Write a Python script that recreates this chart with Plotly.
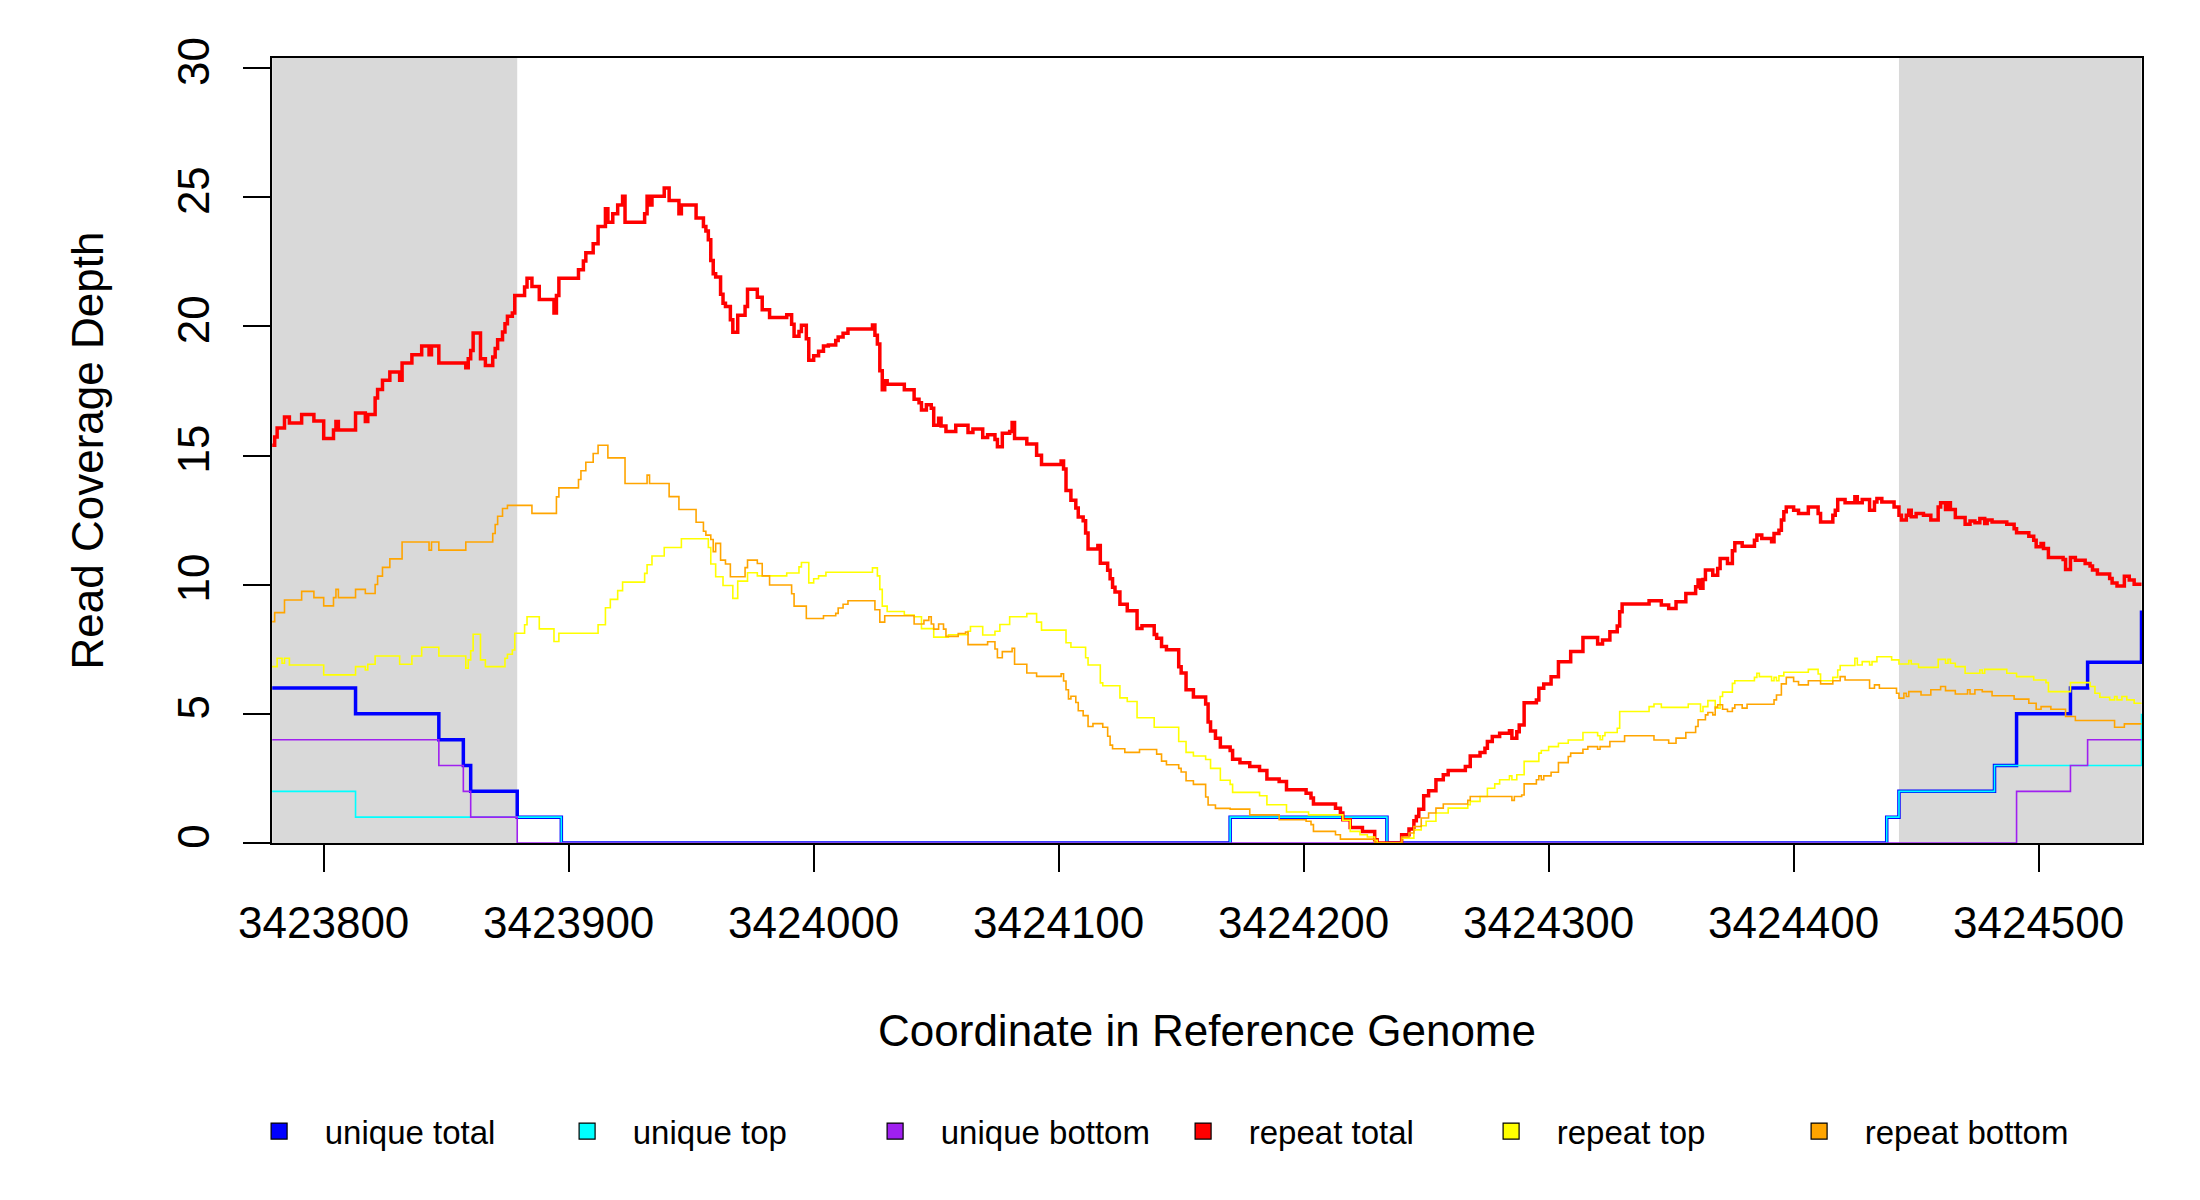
import plotly.graph_objects as go

# read coverage along the reference, stored as steps:
# (genome position, depth) -> depth holds until the next position
end_pos = 3424542

unique_total = [
    (3423779, 6), (3423813, 5), (3423847, 4), (3423857, 3), (3423860, 2),
    (3423879, 1), (3423897, 0), (3424170, 1), (3424234, 0), (3424438, 1),
    (3424443, 2), (3424482, 3), (3424491, 5), (3424513, 6), (3424520, 7),
    (3424542, 9),
]

unique_top = [
    (3423779, 2), (3423813, 1), (3423897, 0), (3424170, 1), (3424234, 0),
    (3424438, 1), (3424443, 2), (3424482, 3), (3424542, 5),
]

unique_bottom = [
    (3423779, 4), (3423847, 3), (3423857, 2), (3423860, 1), (3423879, 0),
    (3424491, 2), (3424513, 3), (3424520, 4),
]

repeat_total = [
    (3423779, 15.40), (3423780, 15.72), (3423781, 16.07), (3423784, 16.49),
    (3423786, 16.26), (3423791, 16.59), (3423796, 16.34), (3423800, 15.66),
    (3423804, 15.99), (3423805, 16.32), (3423806, 15.99), (3423813, 16.65),
    (3423817, 16.32), (3423818, 16.59), (3423821, 17.23), (3423822, 17.56),
    (3423824, 17.91), (3423827, 18.23), (3423831, 17.91), (3423832, 18.58),
    (3423836, 18.90), (3423840, 19.24), (3423843, 18.90), (3423844, 19.24),
    (3423847, 18.58), (3423858, 18.40), (3423859, 18.75), (3423860, 19.07),
    (3423861, 19.74), (3423864, 18.75), (3423866, 18.49), (3423869, 18.81),
    (3423870, 19.14), (3423871, 19.48), (3423873, 19.78), (3423874, 20.10),
    (3423875, 20.39), (3423877, 20.52), (3423878, 21.20), (3423882, 21.52),
    (3423883, 21.86), (3423885, 21.54), (3423888, 21.04), (3423894, 20.52),
    (3423895, 21.20), (3423896, 21.86), (3423904, 22.19), (3423906, 22.53),
    (3423907, 22.85), (3423910, 23.20), (3423912, 23.87), (3423915, 24.55),
    (3423916, 24.03), (3423918, 24.36), (3423920, 24.70), (3423922, 25.04),
    (3423923, 24.03), (3423931, 24.36), (3423932, 25.04), (3423933, 24.70),
    (3423934, 25.04), (3423939, 25.36), (3423941, 24.87), (3423945, 24.36),
    (3423946, 24.70), (3423952, 24.20), (3423955, 23.87), (3423956, 23.69),
    (3423957, 23.35), (3423958, 22.55), (3423959, 22.04), (3423960, 21.91),
    (3423962, 21.24), (3423963, 20.90), (3423964, 20.77), (3423966, 20.26),
    (3423967, 19.77), (3423969, 20.43), (3423972, 20.77), (3423973, 21.44),
    (3423977, 21.13), (3423979, 20.64), (3423982, 20.34), (3423989, 20.45),
    (3423991, 20.08), (3423992, 19.62), (3423994, 19.80), (3423995, 20.04),
    (3423997, 19.52), (3423998, 18.69), (3424000, 18.86), (3424002, 19.04),
    (3424004, 19.24), (3424006, 19.28), (3424009, 19.45), (3424010, 19.59),
    (3424012, 19.73), (3424014, 19.90), (3424024, 20.05), (3424025, 19.66),
    (3424026, 19.32), (3424027, 18.28), (3424028, 17.55), (3424029, 17.90),
    (3424030, 17.76), (3424037, 17.55), (3424041, 17.18), (3424043, 17.04),
    (3424044, 16.76), (3424046, 16.97), (3424048, 16.83), (3424049, 16.17),
    (3424051, 16.44), (3424052, 16.14), (3424054, 15.93), (3424058, 16.17),
    (3424063, 15.89), (3424065, 16.03), (3424069, 15.70), (3424071, 15.80),
    (3424074, 15.62), (3424075, 15.34), (3424077, 15.86), (3424080, 15.93),
    (3424081, 16.28), (3424082, 15.66), (3424087, 15.45), (3424091, 15.01),
    (3424093, 14.65), (3424101, 14.79), (3424102, 14.48), (3424103, 13.65),
    (3424105, 13.27), (3424107, 12.97), (3424108, 12.62), (3424110, 12.48),
    (3424111, 12.00), (3424112, 11.38), (3424116, 11.52), (3424117, 10.83),
    (3424120, 10.56), (3424121, 10.23), (3424122, 9.90), (3424123, 9.72),
    (3424125, 9.24), (3424128, 8.99), (3424132, 8.30), (3424134, 8.41),
    (3424139, 8.07), (3424140, 7.93), (3424142, 7.61), (3424144, 7.48),
    (3424149, 6.82), (3424150, 6.58), (3424152, 5.93), (3424155, 5.65),
    (3424160, 5.38), (3424161, 4.68), (3424162, 4.34), (3424164, 4.06),
    (3424166, 3.72), (3424170, 3.58), (3424171, 3.24), (3424174, 3.11),
    (3424178, 2.96), (3424182, 2.81), (3424185, 2.48), (3424190, 2.38),
    (3424193, 2.06), (3424201, 1.93), (3424203, 1.74), (3424204, 1.51),
    (3424213, 1.35), (3424215, 1.16), (3424216, 0.90), (3424219, 0.60),
    (3424224, 0.45), (3424229, 0.13), (3424230, 0.00), (3424240, 0.32),
    (3424243, 0.54), (3424245, 0.86), (3424246, 1.03), (3424247, 1.31),
    (3424249, 1.83), (3424251, 2.02), (3424254, 2.45), (3424257, 2.64),
    (3424259, 2.81), (3424266, 2.96), (3424268, 3.37), (3424272, 3.50),
    (3424274, 3.67), (3424275, 3.93), (3424277, 4.12), (3424280, 4.25),
    (3424284, 4.35), (3424285, 4.06), (3424287, 4.31), (3424288, 4.57),
    (3424290, 5.43), (3424295, 5.54), (3424296, 5.99), (3424298, 6.16),
    (3424301, 6.44), (3424304, 7.02), (3424309, 7.41), (3424314, 7.96),
    (3424320, 7.70), (3424322, 7.86), (3424325, 8.18), (3424328, 8.40),
    (3424329, 8.95), (3424330, 9.25), (3424341, 9.38), (3424346, 9.21),
    (3424349, 9.08), (3424352, 9.34), (3424356, 9.66), (3424360, 9.92),
    (3424361, 10.18), (3424362, 9.86), (3424363, 10.20), (3424364, 10.57),
    (3424367, 10.37), (3424369, 10.63), (3424370, 11.01), (3424373, 10.82),
    (3424375, 11.31), (3424376, 11.62), (3424379, 11.49), (3424384, 11.72),
    (3424385, 11.92), (3424387, 11.79), (3424391, 11.66), (3424392, 11.98),
    (3424394, 12.11), (3424395, 12.50), (3424396, 12.82), (3424397, 13.01),
    (3424400, 12.88), (3424402, 12.76), (3424406, 13.01), (3424410, 12.76),
    (3424411, 12.43), (3424416, 12.69), (3424417, 12.88), (3424418, 13.30),
    (3424421, 13.17), (3424425, 13.40), (3424426, 13.17), (3424428, 13.30),
    (3424431, 12.88), (3424433, 13.20), (3424434, 13.34), (3424436, 13.20),
    (3424441, 13.01), (3424443, 12.69), (3424444, 12.50), (3424446, 12.69),
    (3424447, 12.88), (3424448, 12.63), (3424450, 12.76), (3424453, 12.69),
    (3424456, 12.50), (3424459, 13.01), (3424460, 13.17), (3424462, 12.91),
    (3424463, 13.17), (3424464, 12.91), (3424466, 12.60), (3424470, 12.34),
    (3424472, 12.47), (3424474, 12.40), (3424476, 12.56), (3424478, 12.37),
    (3424479, 12.50), (3424481, 12.43), (3424487, 12.34), (3424490, 12.17),
    (3424491, 12.01), (3424496, 11.88), (3424498, 11.72), (3424499, 11.47),
    (3424501, 11.59), (3424502, 11.40), (3424504, 11.05), (3424510, 10.98),
    (3424511, 10.59), (3424513, 11.05), (3424515, 10.95), (3424519, 10.82),
    (3424521, 10.72), (3424522, 10.57), (3424524, 10.41), (3424529, 10.24),
    (3424530, 10.07), (3424532, 9.95), (3424535, 10.33), (3424537, 10.18),
    (3424539, 10.02),
]

repeat_top = [
    (3423779, 6.83), (3423781, 7.15), (3423783, 6.96), (3423784, 7.15),
    (3423786, 6.89), (3423800, 6.51), (3423813, 6.83), (3423817, 6.70),
    (3423818, 6.92), (3423821, 7.24), (3423831, 6.92), (3423836, 7.24),
    (3423840, 7.58), (3423847, 7.24), (3423858, 6.77), (3423859, 7.09),
    (3423860, 7.44), (3423861, 8.08), (3423864, 7.09), (3423866, 6.83),
    (3423874, 7.15), (3423875, 7.31), (3423877, 7.47), (3423878, 8.12),
    (3423882, 8.45), (3423883, 8.76), (3423888, 8.29), (3423894, 7.80),
    (3423896, 8.12), (3423912, 8.45), (3423915, 9.11), (3423917, 9.43),
    (3423920, 9.77), (3423922, 10.10), (3423931, 10.44), (3423932, 10.77),
    (3423934, 11.11), (3423939, 11.44), (3423946, 11.78), (3423957, 11.44),
    (3423958, 10.80), (3423960, 10.31), (3423963, 9.97), (3423967, 9.47),
    (3423969, 10.14), (3423973, 10.46), (3423977, 10.34), (3423989, 10.45),
    (3423994, 10.69), (3423995, 10.86), (3423998, 10.07), (3424000, 10.23),
    (3424002, 10.34), (3424005, 10.48), (3424024, 10.65), (3424026, 10.34),
    (3424027, 9.82), (3424028, 9.17), (3424030, 8.96), (3424037, 8.82),
    (3424041, 8.76), (3424044, 8.30), (3424049, 7.97), (3424055, 8.06),
    (3424063, 8.20), (3424064, 8.38), (3424069, 8.05), (3424074, 8.20),
    (3424076, 8.46), (3424080, 8.76), (3424087, 8.88), (3424091, 8.55),
    (3424093, 8.24), (3424103, 7.75), (3424105, 7.58), (3424111, 7.17),
    (3424112, 6.89), (3424117, 6.20), (3424118, 6.09), (3424125, 5.62),
    (3424128, 5.48), (3424132, 4.85), (3424139, 4.48), (3424149, 3.93),
    (3424152, 3.51), (3424155, 3.37), (3424160, 3.23), (3424162, 2.89),
    (3424166, 2.43), (3424170, 2.27), (3424171, 1.96), (3424182, 1.83),
    (3424185, 1.48), (3424193, 1.20), (3424202, 1.09), (3424216, 0.88),
    (3424219, 0.45), (3424223, 0.32), (3424226, 0.23), (3424229, 0.10),
    (3424230, 0.00), (3424240, 0.19), (3424245, 0.51), (3424248, 0.67),
    (3424250, 0.84), (3424254, 1.16), (3424259, 1.35), (3424267, 1.48),
    (3424268, 1.61), (3424272, 1.80), (3424275, 2.12), (3424278, 2.29),
    (3424280, 2.45), (3424284, 2.60), (3424285, 2.45), (3424287, 2.64),
    (3424290, 3.16), (3424296, 3.48), (3424297, 3.58), (3424300, 3.73),
    (3424304, 3.86), (3424308, 3.99), (3424314, 4.28), (3424320, 4.15),
    (3424321, 4.00), (3424322, 4.15), (3424323, 4.28), (3424328, 4.44),
    (3424329, 5.09), (3424341, 5.28), (3424343, 5.38), (3424346, 5.25),
    (3424357, 5.38), (3424362, 5.09), (3424363, 5.28), (3424365, 5.51),
    (3424368, 5.22), (3424370, 5.67), (3424371, 5.84), (3424375, 6.18),
    (3424376, 6.28), (3424384, 6.41), (3424385, 6.57), (3424386, 6.44),
    (3424391, 6.28), (3424392, 6.41), (3424393, 6.28), (3424394, 6.47),
    (3424396, 6.61), (3424406, 6.72), (3424410, 6.54), (3424411, 6.28),
    (3424416, 6.41), (3424418, 6.70), (3424419, 6.87), (3424425, 7.15),
    (3424426, 6.89), (3424428, 7.02), (3424431, 6.89), (3424432, 7.02),
    (3424434, 7.21), (3424440, 7.09), (3424443, 6.93), (3424447, 7.06),
    (3424448, 6.93), (3424451, 6.80), (3424459, 7.11), (3424462, 6.96),
    (3424463, 7.11), (3424464, 6.96), (3424466, 6.83), (3424470, 6.57),
    (3424476, 6.70), (3424477, 6.57), (3424478, 6.72), (3424487, 6.57),
    (3424491, 6.44), (3424498, 6.31), (3424503, 6.21), (3424504, 5.86),
    (3424513, 6.21), (3424521, 6.06), (3424523, 5.80), (3424525, 5.64),
    (3424529, 5.54), (3424531, 5.67), (3424532, 5.54), (3424534, 5.67),
    (3424536, 5.54), (3424539, 5.41),
]

repeat_bottom = [
    (3423779, 8.57), (3423780, 8.92), (3423784, 9.41), (3423791, 9.74),
    (3423796, 9.50), (3423800, 9.18), (3423804, 9.50), (3423805, 9.82),
    (3423806, 9.50), (3423813, 9.82), (3423817, 9.66), (3423821, 10.01),
    (3423822, 10.33), (3423824, 10.67), (3423827, 11.00), (3423832, 11.65),
    (3423843, 11.34), (3423844, 11.65), (3423847, 11.34), (3423858, 11.65),
    (3423869, 11.98), (3423870, 12.33), (3423871, 12.65), (3423873, 12.95),
    (3423875, 13.07), (3423885, 12.76), (3423895, 13.40), (3423896, 13.75),
    (3423904, 14.07), (3423905, 14.41), (3423907, 14.74), (3423910, 15.08),
    (3423912, 15.40), (3423916, 14.91), (3423923, 13.92), (3423932, 14.24),
    (3423933, 13.92), (3423941, 13.41), (3423945, 12.91), (3423952, 12.42),
    (3423955, 12.07), (3423956, 11.92), (3423958, 11.75), (3423959, 11.28),
    (3423960, 11.60), (3423962, 10.95), (3423964, 10.80), (3423966, 10.31),
    (3423972, 10.66), (3423973, 10.95), (3423977, 10.82), (3423979, 10.34),
    (3423982, 9.99), (3423991, 9.65), (3423992, 9.17), (3423997, 8.69),
    (3424004, 8.80), (3424009, 8.89), (3424010, 9.10), (3424012, 9.24),
    (3424014, 9.38), (3424025, 9.03), (3424027, 8.55), (3424029, 8.80),
    (3424041, 8.48), (3424045, 8.62), (3424047, 8.76), (3424048, 8.48),
    (3424049, 8.28), (3424051, 8.48), (3424053, 8.28), (3424054, 8.00),
    (3424059, 8.11), (3424062, 8.17), (3424063, 7.68), (3424071, 7.79),
    (3424074, 7.51), (3424075, 7.17), (3424077, 7.41), (3424081, 7.54),
    (3424082, 6.92), (3424087, 6.58), (3424091, 6.45), (3424101, 6.55),
    (3424102, 6.27), (3424103, 5.93), (3424104, 5.58), (3424105, 5.68),
    (3424107, 5.44), (3424108, 5.12), (3424110, 4.93), (3424112, 4.51),
    (3424114, 4.62), (3424118, 4.48), (3424120, 4.13), (3424121, 3.79),
    (3424122, 3.65), (3424127, 3.51), (3424133, 3.62), (3424140, 3.44),
    (3424142, 3.17), (3424144, 3.03), (3424149, 2.89), (3424150, 2.75),
    (3424152, 2.41), (3424155, 2.27), (3424160, 1.78), (3424161, 1.47),
    (3424164, 1.34), (3424170, 1.31), (3424178, 1.09), (3424190, 0.90),
    (3424201, 0.84), (3424203, 0.71), (3424204, 0.45), (3424213, 0.32),
    (3424215, 0.15), (3424229, 0.00), (3424240, 0.23), (3424243, 0.39),
    (3424245, 0.64), (3424248, 0.97), (3424251, 1.16), (3424254, 1.35),
    (3424257, 1.51), (3424267, 1.65), (3424268, 1.80), (3424285, 1.65),
    (3424286, 1.80), (3424289, 1.86), (3424290, 2.29), (3424295, 2.45),
    (3424296, 2.60), (3424297, 2.45), (3424298, 2.60), (3424301, 2.74),
    (3424304, 3.11), (3424308, 3.35), (3424309, 3.48), (3424314, 3.63),
    (3424316, 3.73), (3424320, 3.63), (3424321, 3.73), (3424325, 3.93),
    (3424331, 4.15), (3424343, 3.99), (3424349, 3.86), (3424352, 4.06),
    (3424356, 4.28), (3424360, 4.51), (3424361, 4.77), (3424364, 4.96),
    (3424365, 5.05), (3424367, 4.96), (3424368, 5.26), (3424369, 5.35),
    (3424371, 5.18), (3424373, 5.09), (3424375, 5.22), (3424376, 5.35),
    (3424379, 5.22), (3424381, 5.37), (3424392, 5.54), (3424393, 5.73),
    (3424395, 6.16), (3424397, 6.41), (3424400, 6.25), (3424402, 6.12),
    (3424406, 6.28), (3424411, 6.16), (3424416, 6.28), (3424419, 6.44),
    (3424421, 6.31), (3424431, 5.99), (3424433, 6.12), (3424435, 5.99),
    (3424442, 5.80), (3424443, 5.61), (3424445, 5.80), (3424446, 5.67),
    (3424447, 5.86), (3424452, 5.73), (3424456, 5.93), (3424460, 6.06),
    (3424462, 5.90), (3424466, 5.77), (3424471, 5.93), (3424472, 5.77),
    (3424474, 5.93), (3424477, 5.86), (3424481, 5.70), (3424490, 5.57),
    (3424496, 5.41), (3424499, 5.18), (3424501, 5.28), (3424505, 5.18),
    (3424511, 4.90), (3424515, 4.74), (3424531, 4.48), (3424535, 4.61),
]

# grey flanking windows
flanks = [(3423779, 3423879), (3424443, 3424542)]

x_ticks = [3423800, 3423900, 3424000, 3424100, 3424200, 3424300, 3424400, 3424500]
y_ticks = [0, 5, 10, 15, 20, 25, 30]

# name, steps, colour, line width  (drawn in this order)
series = [
    ("unique total", unique_total, "#0000ff", 3.5),
    ("unique top", unique_top, "#00ffff", 1.6),
    ("unique bottom", unique_bottom, "#a020f0", 1.6),
    ("repeat total", repeat_total, "#ff0000", 3.5),
    ("repeat top", repeat_top, "#ffff00", 1.6),
    ("repeat bottom", repeat_bottom, "#ffa500", 1.6),
]

FONT = "Liberation Sans, Arial, Helvetica, sans-serif"

fig = go.Figure()

for name, steps, color, width in series:
    xs = [p for p, d in steps]
    ys = [d for p, d in steps]
    if xs[-1] < end_pos:
        xs.append(end_pos)
        ys.append(ys[-1])
    fig.add_trace(go.Scatter(
        x=xs, y=ys, mode="lines", name=name,
        line=dict(color=color, width=width, shape="hv"),
        showlegend=False,
    ))

# legend shows filled squares, like the original
for name, steps, color, width in series:
    fig.add_trace(go.Scatter(
        x=[None], y=[None], mode="markers", name="\u2002\u00a0" + name,
        marker=dict(symbol="square", size=16, color=color,
                    line=dict(color="black", width=1.2)),
    ))

fig.update_layout(
    width=2200, height=1200,
    margin=dict(l=264, r=66, t=50, b=365),
    paper_bgcolor="white", plot_bgcolor="white",
    font=dict(family=FONT, color="black"),
    shapes=[
        dict(type="rect", xref="x", yref="paper", x0=a, x1=b, y0=0, y1=1,
             fillcolor="#d9d9d9", line_width=0, layer="below")
        for a, b in flanks
    ],
    legend=dict(orientation="h", x=-0.0069, y=-0.367, xanchor="left", yanchor="middle",
                font=dict(size=33, family=FONT), entrywidth=263, entrywidthmode="pixels",
                bgcolor="rgba(0,0,0,0)"),
)

fig.update_xaxes(
    range=[3423778.9, 3424542.2], tickmode="array", tickvals=x_ticks, tickformat="d",
    ticks="outside", ticklen=27, tickwidth=1.5, tickcolor="black",
    showline=True, linecolor="black", linewidth=1.5, mirror=True,
    showgrid=False, zeroline=False, automargin=False,
    tickfont=dict(size=44, family=FONT), ticklabelstandoff=13,
    title=dict(text="Coordinate in Reference Genome", font=dict(size=44, family=FONT), standoff=70),
)
fig.update_yaxes(
    range=[0, 30.39], tickmode="array", tickvals=y_ticks, tickangle=-90,
    ticks="outside", ticklen=27, tickwidth=1.5, tickcolor="black",
    showline=True, linecolor="black", linewidth=1.5, mirror=True,
    showgrid=False, zeroline=False, automargin=False,
    tickfont=dict(size=44, family=FONT), ticklabelstandoff=17,
    title=dict(text="Read Coverage Depth", font=dict(size=44, family=FONT), standoff=51),
)

fig.write_html("out.html")
